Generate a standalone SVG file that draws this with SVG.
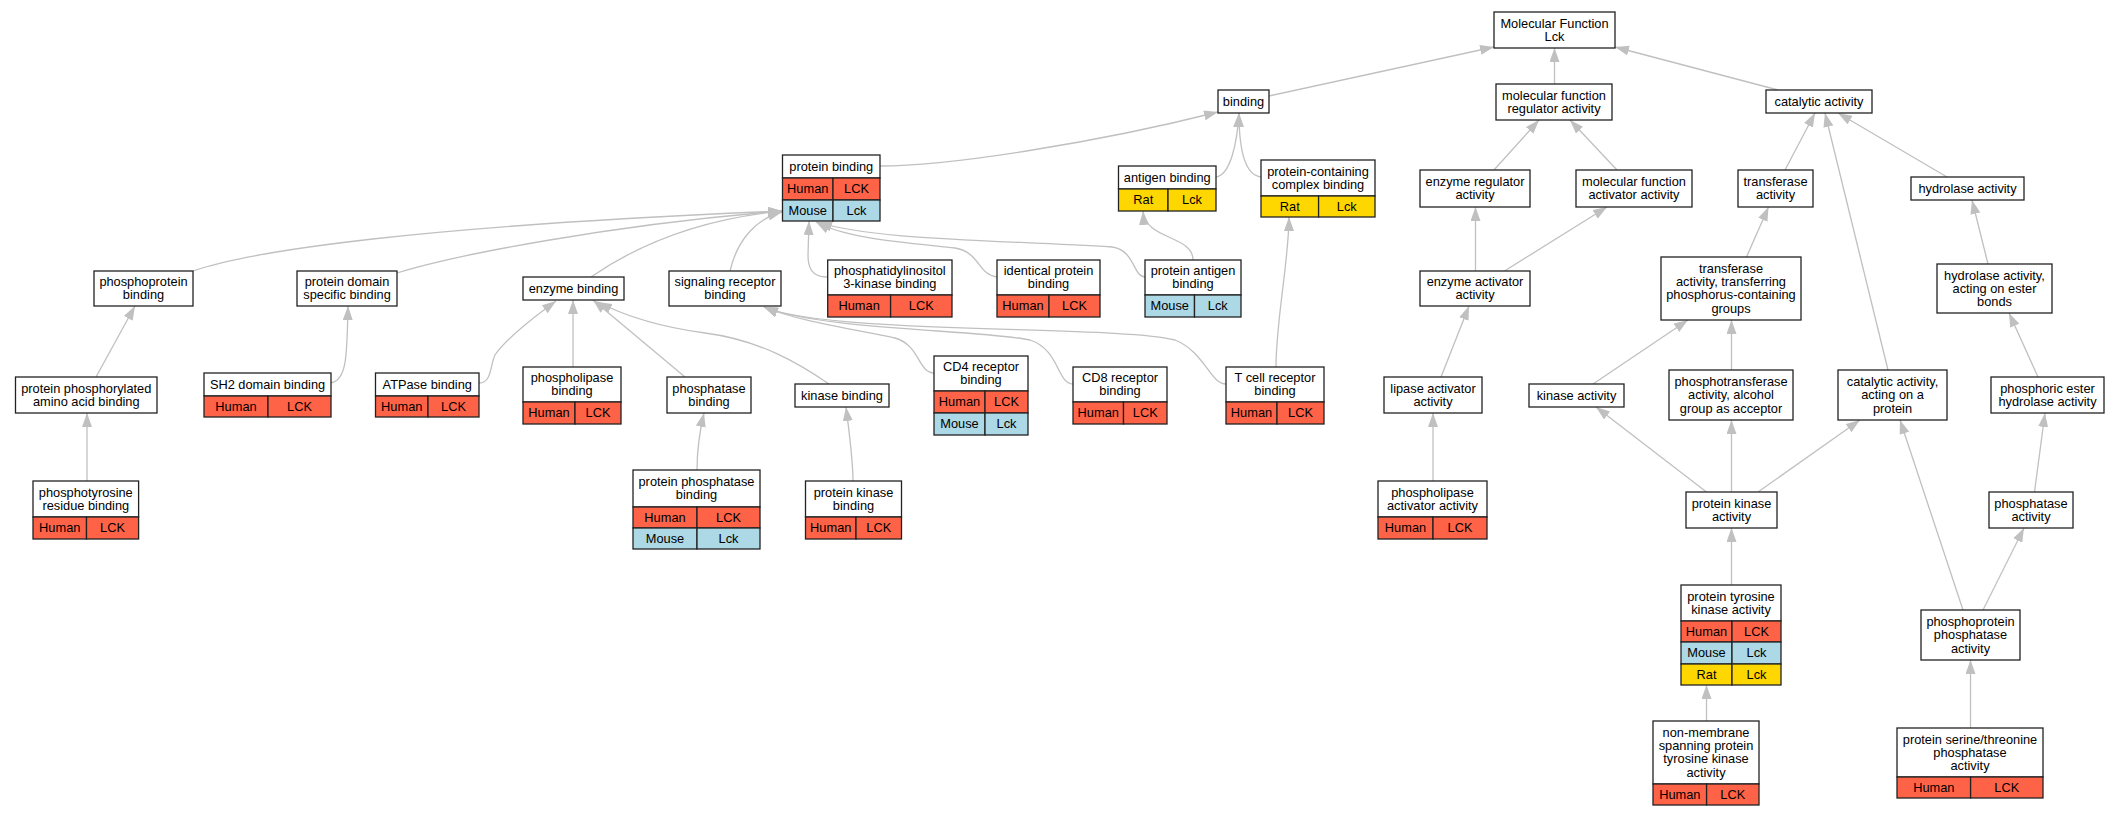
<svg xmlns="http://www.w3.org/2000/svg" width="2120" height="816" viewBox="0 0 2120 816">
<style>
text{font-family:"Liberation Sans",Arial,sans-serif;font-size:12.8px;text-anchor:middle;fill:#000}
.b{fill:#fff;stroke:#222;stroke-width:1.3}
.h{fill:#ff6347;stroke:#222;stroke-width:1.3}
.m{fill:#add8e6;stroke:#222;stroke-width:1.3}
.r{fill:#ffd700;stroke:#222;stroke-width:1.3}
#edges path{fill:none;stroke:#c0c0c0;stroke-width:1.3;marker-end:url(#a)}
</style>
<defs>
<marker id="a" viewBox="0 0 14 10" refX="14" refY="5" markerWidth="14" markerHeight="10" markerUnits="userSpaceOnUse" orient="auto"><path d="M0,0 L14,5 L0,10 z" fill="#c0c0c0"/></marker>
</defs>
<rect width="2120" height="816" fill="#fff"/>
<g id="edges">
<path d="M1269,96 L1494,47"/>
<path d="M1554.5,84 L1554.5,48"/>
<path d="M1778,90 L1615,47"/>
<path d="M880,166 C950,166 1100,142 1218,112"/>
<path d="M1216,177 C1230,175 1237,145 1239,113"/>
<path d="M1261,177 C1243,175 1239,145 1239,113"/>
<path d="M1494,170 L1539,120"/>
<path d="M1617,170 L1570,120"/>
<path d="M1475.5,271 L1475.5,207"/>
<path d="M1504.5,271 L1607,207"/>
<path d="M1441,377 L1469,306"/>
<path d="M1433,481 L1433,413"/>
<path d="M1785,170 L1815,113"/>
<path d="M1888,370 L1825,113"/>
<path d="M1947,177 L1838,113"/>
<path d="M1746.5,257 L1768.5,207"/>
<path d="M1988,264 L1972,200"/>
<path d="M1593,384 L1688,320"/>
<path d="M1731.5,370 L1731.5,320"/>
<path d="M2038,377 L2009,313"/>
<path d="M1706.5,492 L1596,407"/>
<path d="M1731.5,492 L1731.5,420"/>
<path d="M1758,492 L1860,420"/>
<path d="M1731.5,585 L1731.5,528"/>
<path d="M1706.5,721 L1706.5,685"/>
<path d="M1963,610 L1900,420"/>
<path d="M1983,610 L2024,528"/>
<path d="M2034.5,492 L2045,413"/>
<path d="M1970.5,728 L1970.5,660"/>
<path d="M193,271 C255,250 420,226 782,211"/>
<path d="M397,273 C455,255 610,225 782,211"/>
<path d="M591,277 C630,250 690,220 782,211"/>
<path d="M730,271 C736,245 752,220 782,212"/>
<path d="M827,277 C812,277 808,268 808,255 L809,221"/>
<path d="M997,277 C978,275 980,252 955,248 C900,242 845,238 816,222"/>
<path d="M1145,277 C1133,277 1135,250 1112,247 C1000,240 870,240 818,222"/>
<path d="M1193,260 C1193,235 1145,240 1143,211"/>
<path d="M1276,367 C1276,320 1289,260 1289,217"/>
<path d="M934,373 C918,373 920,345 895,338 C860,330 800,322 764,307"/>
<path d="M1073,384 C1057,384 1060,350 1030,340 C985,330 820,330 764,307"/>
<path d="M1226,384 C1210,384 1205,352 1175,340 C1120,325 830,335 764,307"/>
<path d="M573,367 L573,300"/>
<path d="M685,377 L593,300"/>
<path d="M829,384 C800,364 760,340 705,333 C660,327 625,316 598,302"/>
<path d="M479,383 C492,383 490,365 495,355 C505,340 530,320 556,301"/>
<path d="M697,470 C697,450 700,430 704,413"/>
<path d="M853,481 C853,460 849,430 846,407"/>
<path d="M331,383 C347,380 347,355 348,306"/>
<path d="M96,377 L135,306"/>
<path d="M87,481 L87,413"/>
</g>

<g id="mf"><rect class="b" x="1494" y="12" width="121" height="36"/><text x="1554.5" y="27.6">Molecular Function</text><text x="1554.5" y="40.9">Lck</text></g>
<g id="binding"><rect class="b" x="1218" y="90" width="51" height="23"/><text x="1243.5" y="105.8">binding</text></g>
<g id="mfreg"><rect class="b" x="1496" y="84" width="116" height="36"/><text x="1554" y="99.6">molecular function</text><text x="1554" y="112.9">regulator activity</text></g>
<g id="catalytic"><rect class="b" x="1766" y="90" width="106" height="23"/><text x="1819" y="105.8">catalytic activity</text></g>
<g id="enzreg"><rect class="b" x="1420" y="170" width="110" height="37"/><text x="1475" y="186.1">enzyme regulator</text><text x="1475" y="199.4">activity</text></g>
<g id="mfact"><rect class="b" x="1576" y="170" width="116" height="37"/><text x="1634" y="186.1">molecular function</text><text x="1634" y="199.4">activator activity</text></g>
<g id="transferase"><rect class="b" x="1738" y="170" width="75" height="37"/><text x="1775.5" y="186.1">transferase</text><text x="1775.5" y="199.4">activity</text></g>
<g id="hydrolase"><rect class="b" x="1911" y="177" width="113" height="23"/><text x="1967.5" y="192.8">hydrolase activity</text></g>
<g id="enzact"><rect class="b" x="1420" y="271" width="110" height="35"/><text x="1475" y="286.1">enzyme activator</text><text x="1475" y="299.4">activity</text></g>
<g id="transP"><rect class="b" x="1661" y="257" width="140" height="63"/><text x="1731" y="272.8">transferase</text><text x="1731" y="286.1">activity, transferring</text><text x="1731" y="299.4">phosphorus-containing</text><text x="1731" y="312.7">groups</text></g>
<g id="hydEster"><rect class="b" x="1937" y="264" width="115" height="49"/><text x="1994.5" y="279.5">hydrolase activity,</text><text x="1994.5" y="292.8">acting on ester</text><text x="1994.5" y="306.1">bonds</text></g>
<g id="lipaseAct"><rect class="b" x="1384" y="377" width="98" height="36"/><text x="1433" y="392.6">lipase activator</text><text x="1433" y="405.9">activity</text></g>
<g id="kinaseAct"><rect class="b" x="1529" y="384" width="95" height="23"/><text x="1576.5" y="399.8">kinase activity</text></g>
<g id="phosphotransferase"><rect class="b" x="1669" y="370" width="124" height="50"/><text x="1731" y="386">phosphotransferase</text><text x="1731" y="399.3">activity, alcohol</text><text x="1731" y="412.6">group as acceptor</text></g>
<g id="catProt"><rect class="b" x="1838" y="370" width="109" height="50"/><text x="1892.5" y="386">catalytic activity,</text><text x="1892.5" y="399.3">acting on a</text><text x="1892.5" y="412.6">protein</text></g>
<g id="phosEster"><rect class="b" x="1991" y="377" width="113" height="36"/><text x="2047.5" y="392.6">phosphoric ester</text><text x="2047.5" y="405.9">hydrolase activity</text></g>
<g id="protKinAct"><rect class="b" x="1686" y="492" width="91" height="36"/><text x="1731.5" y="507.6">protein kinase</text><text x="1731.5" y="520.9">activity</text></g>
<g id="phosphataseAct"><rect class="b" x="1989" y="492" width="84" height="36"/><text x="2031" y="507.6">phosphatase</text><text x="2031" y="520.9">activity</text></g>
<g id="phosphoprotPhos"><rect class="b" x="1921" y="610" width="99" height="50"/><text x="1970.5" y="626">phosphoprotein</text><text x="1970.5" y="639.3">phosphatase</text><text x="1970.5" y="652.6">activity</text></g>
<g id="phosphoproteinBinding"><rect class="b" x="94" y="271" width="99" height="35"/><text x="143.5" y="286.1">phosphoprotein</text><text x="143.5" y="299.4">binding</text></g>
<g id="proteinDomain"><rect class="b" x="297" y="271" width="100" height="35"/><text x="347" y="286.1">protein domain</text><text x="347" y="299.4">specific binding</text></g>
<g id="enzymeBinding"><rect class="b" x="523" y="277" width="101" height="23"/><text x="573.5" y="292.8">enzyme binding</text></g>
<g id="signalingReceptor"><rect class="b" x="669" y="271" width="112" height="35"/><text x="725" y="286.1">signaling receptor</text><text x="725" y="299.4">binding</text></g>
<g id="protPhosAA"><rect class="b" x="15.5" y="377" width="141.5" height="36"/><text x="86.25" y="392.6">protein phosphorylated</text><text x="86.25" y="405.9">amino acid binding</text></g>
<g id="phosphataseBinding"><rect class="b" x="667" y="377" width="84" height="36"/><text x="709" y="392.6">phosphatase</text><text x="709" y="405.9">binding</text></g>
<g id="kinaseBinding"><rect class="b" x="795" y="384" width="94" height="23"/><text x="842" y="399.8">kinase binding</text></g>

<g id="proteinBinding"><rect class="b" x="782.5" y="155" width="97.5" height="23"/><text x="831.25" y="170.8">protein binding</text>
<rect class="h" x="782.5" y="178" width="50.5" height="22"/><rect class="h" x="833" y="178" width="47" height="22"/><text x="807.75" y="193.3">Human</text><text x="856.5" y="193.3">LCK</text>
<rect class="m" x="782.5" y="200" width="50.5" height="21"/><rect class="m" x="833" y="200" width="47" height="21"/><text x="807.75" y="214.8">Mouse</text><text x="856.5" y="214.8">Lck</text></g>

<g id="antigenBinding"><rect class="b" x="1118.5" y="166" width="97.5" height="23"/><text x="1167.25" y="181.8">antigen binding</text>
<rect class="r" x="1118.5" y="189" width="49.5" height="22"/><rect class="r" x="1168" y="189" width="48" height="22"/><text x="1143.25" y="204.3">Rat</text><text x="1192" y="204.3">Lck</text></g>

<g id="proteinContaining"><rect class="b" x="1261" y="160" width="114" height="36"/><text x="1318" y="175.6">protein-containing</text><text x="1318" y="188.9">complex binding</text>
<rect class="r" x="1261" y="196" width="57.6" height="21"/><rect class="r" x="1318.6" y="196" width="56.4" height="21"/><text x="1289.8" y="210.8">Rat</text><text x="1346.8" y="210.8">Lck</text></g>

<g id="pi3k"><rect class="b" x="827.7" y="260" width="124.3" height="35"/><text x="889.85" y="275.1">phosphatidylinositol</text><text x="889.85" y="288.4">3-kinase binding</text>
<rect class="h" x="827.7" y="295" width="62.9" height="22"/><rect class="h" x="890.6" y="295" width="61.4" height="22"/><text x="859.15" y="310.3">Human</text><text x="921.3" y="310.3">LCK</text></g>

<g id="identical"><rect class="b" x="997" y="260" width="103" height="35"/><text x="1048.5" y="275.1">identical protein</text><text x="1048.5" y="288.4">binding</text>
<rect class="h" x="997" y="295" width="52" height="22"/><rect class="h" x="1049" y="295" width="51" height="22"/><text x="1023" y="310.3">Human</text><text x="1074.5" y="310.3">LCK</text></g>

<g id="proteinAntigen"><rect class="b" x="1145" y="260" width="96" height="35"/><text x="1193" y="275.1">protein antigen</text><text x="1193" y="288.4">binding</text>
<rect class="m" x="1145" y="295" width="49.5" height="22"/><rect class="m" x="1194.5" y="295" width="46.5" height="22"/><text x="1169.75" y="310.3">Mouse</text><text x="1217.75" y="310.3">Lck</text></g>

<g id="sh2"><rect class="b" x="204" y="373" width="127" height="23"/><text x="267.5" y="388.8">SH2 domain binding</text>
<rect class="h" x="204" y="396" width="64" height="21"/><rect class="h" x="268" y="396" width="63" height="21"/><text x="236" y="410.8">Human</text><text x="299.5" y="410.8">LCK</text></g>

<g id="atpase"><rect class="b" x="375.5" y="373" width="103.5" height="23"/><text x="427.25" y="388.8">ATPase binding</text>
<rect class="h" x="375.5" y="396" width="52.5" height="21"/><rect class="h" x="428" y="396" width="51" height="21"/><text x="401.75" y="410.8">Human</text><text x="453.5" y="410.8">LCK</text></g>

<g id="phospholipaseBinding"><rect class="b" x="523" y="367" width="98" height="35"/><text x="572" y="382.1">phospholipase</text><text x="572" y="395.4">binding</text>
<rect class="h" x="523" y="402" width="52" height="22"/><rect class="h" x="575" y="402" width="46" height="22"/><text x="549" y="417.3">Human</text><text x="598" y="417.3">LCK</text></g>

<g id="cd4"><rect class="b" x="934" y="356" width="94" height="35"/><text x="981" y="371.1">CD4 receptor</text><text x="981" y="384.4">binding</text>
<rect class="h" x="934" y="391" width="51" height="22"/><rect class="h" x="985" y="391" width="43" height="22"/><text x="959.5" y="406.3">Human</text><text x="1006.5" y="406.3">LCK</text>
<rect class="m" x="934" y="413" width="51" height="22"/><rect class="m" x="985" y="413" width="43" height="22"/><text x="959.5" y="428.3">Mouse</text><text x="1006.5" y="428.3">Lck</text></g>

<g id="cd8"><rect class="b" x="1073" y="367" width="94" height="35"/><text x="1120" y="382.1">CD8 receptor</text><text x="1120" y="395.4">binding</text>
<rect class="h" x="1073" y="402" width="50.5" height="22"/><rect class="h" x="1123.5" y="402" width="43.5" height="22"/><text x="1098.25" y="417.3">Human</text><text x="1145.25" y="417.3">LCK</text></g>

<g id="tcell"><rect class="b" x="1226" y="367" width="98" height="35"/><text x="1275" y="382.1">T cell receptor</text><text x="1275" y="395.4">binding</text>
<rect class="h" x="1226" y="402" width="51" height="22"/><rect class="h" x="1277" y="402" width="47" height="22"/><text x="1251.5" y="417.3">Human</text><text x="1300.5" y="417.3">LCK</text></g>

<g id="phosphotyrosine"><rect class="b" x="33" y="481" width="105.6" height="36"/><text x="85.8" y="496.6">phosphotyrosine</text><text x="85.8" y="509.9">residue binding</text>
<rect class="h" x="33" y="517" width="53.5" height="22"/><rect class="h" x="86.5" y="517" width="52.1" height="22"/><text x="59.75" y="532.3">Human</text><text x="112.55" y="532.3">LCK</text></g>

<g id="protPhosBinding"><rect class="b" x="633" y="470" width="127" height="37"/><text x="696.5" y="486.1">protein phosphatase</text><text x="696.5" y="499.4">binding</text>
<rect class="h" x="633" y="507" width="64" height="21"/><rect class="h" x="697" y="507" width="63" height="21"/><text x="665" y="521.8">Human</text><text x="728.5" y="521.8">LCK</text>
<rect class="m" x="633" y="528" width="64" height="21"/><rect class="m" x="697" y="528" width="63" height="21"/><text x="665" y="542.8">Mouse</text><text x="728.5" y="542.8">Lck</text></g>

<g id="protKinBinding"><rect class="b" x="805.5" y="481" width="96" height="36"/><text x="853.5" y="496.6">protein kinase</text><text x="853.5" y="509.9">binding</text>
<rect class="h" x="805.5" y="517" width="50.5" height="22"/><rect class="h" x="856" y="517" width="45.5" height="22"/><text x="830.75" y="532.3">Human</text><text x="878.75" y="532.3">LCK</text></g>

<g id="phospholipaseAct"><rect class="b" x="1378" y="481" width="109" height="36"/><text x="1432.5" y="496.6">phospholipase</text><text x="1432.5" y="509.9">activator activity</text>
<rect class="h" x="1378" y="517" width="55" height="22"/><rect class="h" x="1433" y="517" width="54" height="22"/><text x="1405.5" y="532.3">Human</text><text x="1460" y="532.3">LCK</text></g>

<g id="protTyrKin"><rect class="b" x="1681" y="585" width="100" height="36"/><text x="1731" y="600.6">protein tyrosine</text><text x="1731" y="613.9">kinase activity</text>
<rect class="h" x="1681" y="621" width="51" height="21"/><rect class="h" x="1732" y="621" width="49" height="21"/><text x="1706.5" y="635.8">Human</text><text x="1756.5" y="635.8">LCK</text>
<rect class="m" x="1681" y="642" width="51" height="22"/><rect class="m" x="1732" y="642" width="49" height="22"/><text x="1706.5" y="657.3">Mouse</text><text x="1756.5" y="657.3">Lck</text>
<rect class="r" x="1681" y="664" width="51" height="21"/><rect class="r" x="1732" y="664" width="49" height="21"/><text x="1706.5" y="678.8">Rat</text><text x="1756.5" y="678.8">Lck</text></g>

<g id="nonMembrane"><rect class="b" x="1653" y="721" width="106" height="63"/><text x="1706" y="736.8">non-membrane</text><text x="1706" y="750.1">spanning protein</text><text x="1706" y="763.4">tyrosine kinase</text><text x="1706" y="776.7">activity</text>
<rect class="h" x="1653" y="784" width="53.6" height="21"/><rect class="h" x="1706.6" y="784" width="52.4" height="21"/><text x="1679.8" y="798.8">Human</text><text x="1732.8" y="798.8">LCK</text></g>

<g id="serThr"><rect class="b" x="1897" y="728" width="146" height="49"/><text x="1970" y="743.5">protein serine/threonine</text><text x="1970" y="756.8">phosphatase</text><text x="1970" y="770.1">activity</text>
<rect class="h" x="1897" y="777" width="73.6" height="21"/><rect class="h" x="1970.6" y="777" width="72.4" height="21"/><text x="1933.8" y="791.8">Human</text><text x="2006.8" y="791.8">LCK</text></g>
</svg>
